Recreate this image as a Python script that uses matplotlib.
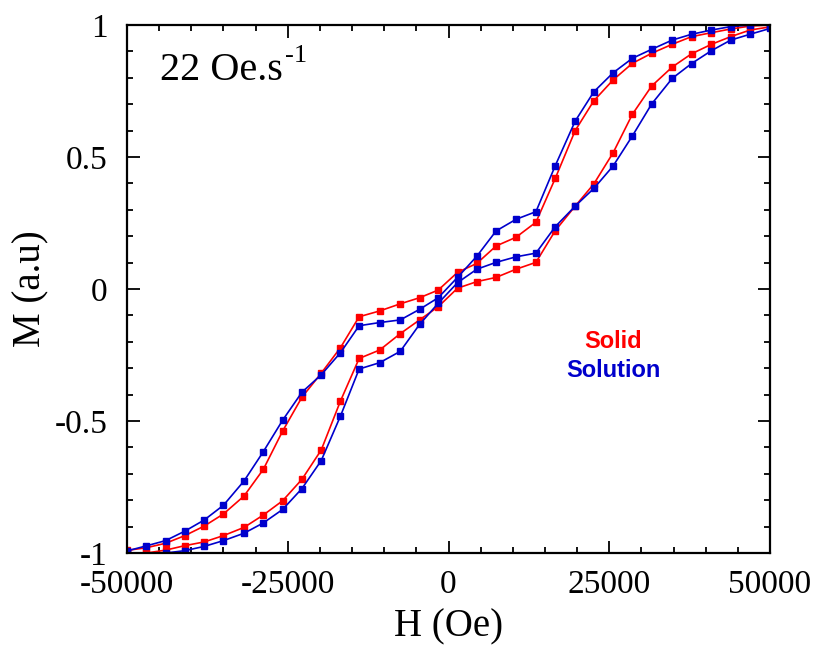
import matplotlib
matplotlib.use("Agg")
import matplotlib.pyplot as plt
from matplotlib.ticker import MultipleLocator

# field values (Oe), shared by every branch
field = [-50000, -47000, -44000, -41000, -38000, -35000, -31800, -28800, -25800,
         -22800, -19800, -16800, -13900, -10700, -7500, -4500, -1600, 1400, 4400,
         7400, 10500, 13600, 16600, 19700, 22600, 25600, 28600, 31600, 34800,
         37800, 40900, 43900, 46900, 50000]

# solid: upper (descending) and lower (ascending) branches
solid_down = [-0.990, -0.980, -0.963, -0.934, -0.898, -0.852, -0.784, -0.683, -0.538,
              -0.410, -0.319, -0.222, -0.105, -0.083, -0.056, -0.033, -0.004, 0.063,
              0.097, 0.163, 0.196, 0.253, 0.419, 0.600, 0.713, 0.792, 0.855, 0.893,
              0.927, 0.956, 0.971, 0.985, 0.996, 1.000]
solid_up = [-1.000, -1.000, -0.989, -0.972, -0.958, -0.934, -0.903, -0.856, -0.802,
            -0.721, -0.610, -0.424, -0.263, -0.231, -0.169, -0.117, -0.067, 0.003,
            0.028, 0.044, 0.075, 0.101, 0.221, 0.314, 0.398, 0.516, 0.662, 0.769,
            0.841, 0.891, 0.927, 0.956, 0.981, 0.993]

# solution
solution_down = [-0.992, -0.973, -0.953, -0.917, -0.875, -0.819, -0.727, -0.616, -0.497,
                 -0.391, -0.325, -0.241, -0.139, -0.127, -0.117, -0.077, -0.033, 0.044,
                 0.124, 0.220, 0.264, 0.293, 0.467, 0.636, 0.747, 0.819, 0.874, 0.908,
                 0.943, 0.965, 0.981, 0.994, 1.000, 1.000]
solution_up = [-1.000, -1.015, -1.000, -0.991, -0.975, -0.953, -0.925, -0.886, -0.835,
               -0.756, -0.650, -0.481, -0.303, -0.279, -0.236, -0.134, -0.054, 0.024,
               0.075, 0.101, 0.122, 0.136, 0.236, 0.314, 0.381, 0.466, 0.580, 0.701,
               0.798, 0.854, 0.903, 0.943, 0.965, 0.987]

red = '#ff0000'
blue = '#0000cc'

plt.rcParams['font.family'] = ['Liberation Serif', 'DejaVu Serif']
plt.rcParams['axes.unicode_minus'] = False

fig = plt.figure(figsize=(8.18, 6.5), dpi=100)
ax = fig.add_axes([0.1553, 0.1492, 0.786, 0.8123])

# red first, blue drawn on top
for m in (solid_down, solid_up):
    ax.plot(field, m, color=red, lw=1.2, marker='s', ms=3.8, mec=red, mfc=red)
for m in (solution_down, solution_up):
    ax.plot(field, m, color=blue, lw=1.2, marker='s', ms=3.8, mec=blue, mfc=blue)

ax.set_xlim(-50000, 50000)
ax.set_ylim(-1, 1)
ax.xaxis.set_minor_locator(MultipleLocator(5000))
ax.yaxis.set_minor_locator(MultipleLocator(0.1))
ax.set_xticks([-50000, -25000, 0, 25000, 50000])
ax.set_xticklabels(['-50000', '-25000', '0', '25000', '50000'])
ax.set_yticks([-1, -0.5, 0, 0.5, 1])
ax.set_yticklabels(['-1', '-0.5', '0', '0.5', '1'])

ax.tick_params(which='both', direction='in', top=True, right=True, width=1.3, labelsize=24)
ax.tick_params(which='major', length=9)
ax.tick_params(which='minor', length=4.5)
ax.tick_params(axis='x', pad=12)
ax.tick_params(axis='y', pad=14)
for s in ax.spines.values():
    s.set_linewidth(1.6)

ax.set_xlabel('H (Oe)', fontsize=28, labelpad=6)
ax.set_ylabel('M (a.u)', fontsize=28, labelpad=4)

# rate label, superscript placed right after the main text
rate = ax.text(-44800, 0.79, '22 Oe.s', fontsize=29, ha='left', va='baseline')
fig.canvas.draw()
bb = rate.get_window_extent()
x_end = ax.transData.inverted().transform((bb.x1, bb.y0))[0]
ax.annotate('-1', xy=(x_end, 0.79), xytext=(1, 13), textcoords='offset points',
            fontsize=19, ha='left', va='baseline')

ax.text(25600, -0.20, 'Solid', color=red, fontsize=17, fontweight='bold',
        family='Liberation Sans', ha='center', va='center')
ax.text(25600, -0.307, 'Solution', color=blue, fontsize=17, fontweight='bold',
        family='Liberation Sans', ha='center', va='center')

fig.savefig('out.png', dpi=100)
